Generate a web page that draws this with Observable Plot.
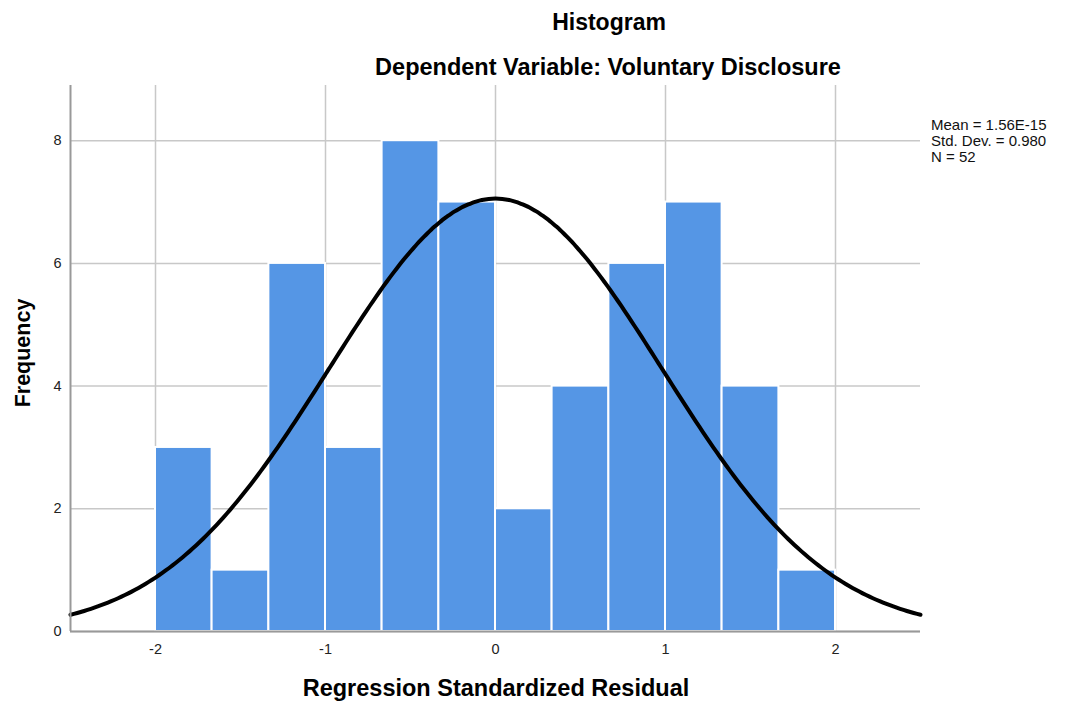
<!DOCTYPE html>
<html>
<head>
<meta charset="utf-8">
<script src="https://cdn.jsdelivr.net/npm/d3@7"></script>
<script src="https://cdn.jsdelivr.net/npm/@observablehq/plot@0.6"></script>
<style>
  html, body { margin: 0; padding: 0; background: #fff; }
  #chart { width: 1065px; height: 709px; }
</style>
</head>
<body>
<div id="chart"></div>
<script>
// Histogram bins (edges) and frequencies
const binEdges = [-2, -1.667, -1.333, -1, -0.667, -0.333, 0, 0.333, 0.667, 1, 1.333, 1.667, 2];
const counts   = [3, 1, 6, 3, 8, 7, 2, 4, 6, 7, 4, 1];
const xTicks = [-2, -1, 0, 1, 2];
const yTicks = [0, 2, 4, 6, 8];
// Summary statistics shown in the legend
const statMean = 1.56e-15;
const statSd = 0.980;
const statN = 52;
const legendLines = ["Mean = 1.56E-15", "Std. Dev. = 0.980", "N = 52"];
const titleText = "Histogram";
const subtitleText = "Dependent Variable: Voluntary Disclosure";
const xLabel = "Regression Standardized Residual";
const yLabel = "Frequency";

const bars = counts.map((c, i) => ({x1: binEdges[i], x2: binEdges[i + 1], y: c}));
const binWidth = (binEdges[binEdges.length - 1] - binEdges[0]) / counts.length;
// Fitted normal curve, scaled to frequency (as SPSS draws it)
const curve = d3.range(-2.5, 2.5001, 0.02).map(x => ({
  x,
  y: statN * binWidth * Math.exp(-0.5 * ((x - statMean) / statSd) ** 2) / (statSd * Math.sqrt(2 * Math.PI))
}));

const W = 1065, H = 709;
const plot = Plot.plot({
  width: W,
  height: H,
  marginLeft: 70,
  marginRight: 145,
  marginTop: 85,
  marginBottom: 78,
  style: {fontFamily: "'Liberation Sans', Arial, sans-serif", fontSize: "14px", color: "#222", background: "#fff"},
  x: {domain: [-2.5, 2.5]},
  y: {domain: [0, 8.9]},
  marks: [
    Plot.gridX(xTicks, {stroke: "#c8c8c8", strokeOpacity: 1, strokeWidth: 1.5}),
    Plot.gridY(yTicks, {stroke: "#c8c8c8", strokeOpacity: 1, strokeWidth: 1.5}),
    Plot.rectY(bars, {x1: "x1", x2: "x2", y: "y", fill: "#5596e5", stroke: "#fff", strokeWidth: 2}),
    Plot.line(curve, {x: "x", y: "y", stroke: "#000", strokeWidth: 4, curve: "natural"}),
    Plot.ruleX([-2.5], {stroke: "#999", strokeWidth: 2}),
    Plot.ruleY([0], {stroke: "#999", strokeWidth: 2}),
    Plot.axisX(xTicks, {tickSize: 0, tickPadding: 12, label: null, fontSize: 14.5, tickFormat: d => String(d)}),
    Plot.axisY(yTicks, {tickSize: 0, tickPadding: 9, label: null, fontSize: 14.5, tickFormat: d => String(d)})
  ]
});

const svg = d3.select(plot);
const font = "'Liberation Sans', Arial, sans-serif";
svg.append("text").attr("x", 609).attr("y", 30).attr("text-anchor", "middle")
  .attr("font-family", font).attr("font-weight", "bold").attr("font-size", 23).attr("fill", "#000").text(titleText);
svg.append("text").attr("x", 608).attr("y", 75).attr("text-anchor", "middle")
  .attr("font-family", font).attr("font-weight", "bold").attr("font-size", 23.5).attr("fill", "#000").text(subtitleText);
svg.append("text").attr("x", 496).attr("y", 696).attr("text-anchor", "middle")
  .attr("font-family", font).attr("font-weight", "bold").attr("font-size", 23.5).attr("fill", "#000").text(xLabel);
svg.append("text").attr("transform", "translate(30,353) rotate(-90)").attr("text-anchor", "middle")
  .attr("font-family", font).attr("font-weight", "bold").attr("font-size", 21.5).attr("fill", "#000").text(yLabel);
legendLines.forEach((t, i) => {
  svg.append("text").attr("x", 931).attr("y", 130 + i * 16).attr("text-anchor", "start")
    .attr("font-family", font).attr("font-size", 15).attr("fill", "#111").text(t);
});

document.getElementById("chart").appendChild(plot);
</script>
</body>
</html>
